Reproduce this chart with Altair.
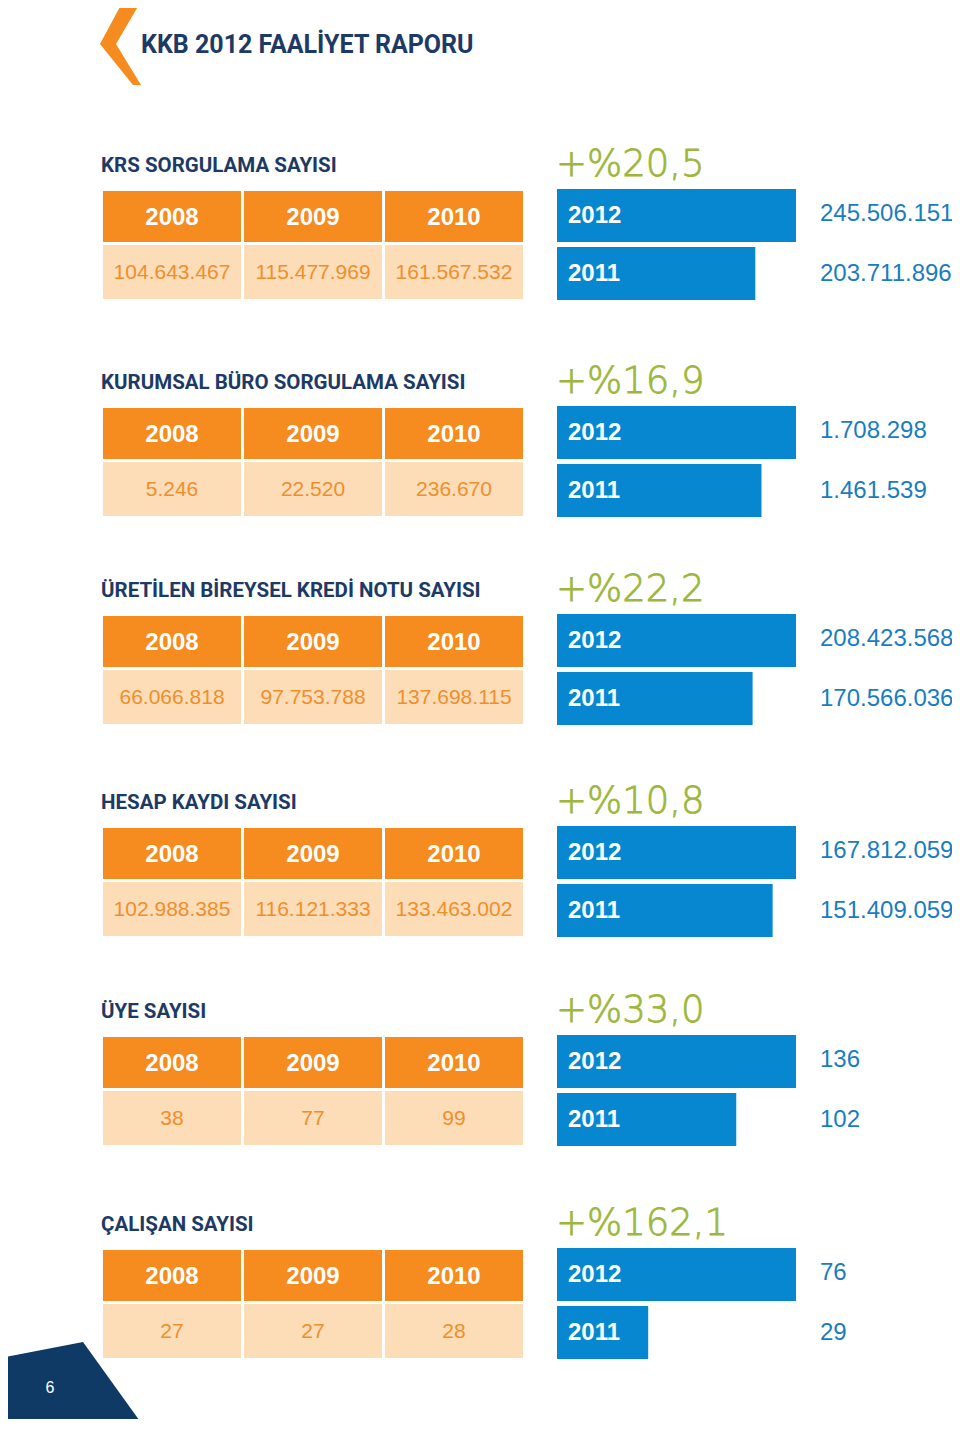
import altair as alt
import pandas as pd

# ---------------- data ----------------
titles = [
    "KRS SORGULAMA SAYISI",
    "KURUMSAL BÜRO SORGULAMA SAYISI",
    "ÜRETİLEN BİREYSEL KREDİ NOTU SAYISI",
    "HESAP KAYDI SAYISI",
    "ÜYE SAYISI",
    "ÇALIŞAN SAYISI",
]
hist_years = ["2008", "2009", "2010"]
v2008 = [104643467, 5246, 66066818, 102988385, 38, 27]
v2009 = [115477969, 22520, 97753788, 116121333, 77, 27]
v2010 = [161567532, 236670, 137698115, 133463002, 99, 28]
bar_years = ["2012", "2011"]
v2012 = [245506151, 1708298, 208423568, 167812059, 136, 76]
v2011 = [203711896, 1461539, 170566036, 151409059, 102, 29]
growth = ["+%20,5", "+%16,9", "+%22,2", "+%10,8", "+%33,0", "+%162,1"]
report_title = "KKB 2012 FAALİYET RAPORU"
page_no = "6"

# ---------------- layout (page pixel units) ----------------
W, H = 944, 1411
section_centers = [217, 434, 642, 854, 1063, 1276]
col_left = [103, 244, 385]
cell_w = 138

ORANGE = "#F68B1F"
PEACH = "#FDDCB8"
ORANGE_TXT = "#EF8F2C"
NAVY = "#1D3A66"
NAVY_DARK = "#0F3A66"
BLUE = "#0787D0"
BLUE_TXT = "#1A7DBF"
GREEN = "#9DB73C"
NARROW = "Roboto, sans-serif"
SANS = "Liberation Sans, Arial, sans-serif"


def fmt(v):
    return f"{v:,}".replace(",", ".")


xs = alt.Scale(domain=[8, 8 + W], range=[0, W], nice=False, zero=False)
ys = alt.Scale(domain=[8, 8 + H], range=[0, H], nice=False, zero=False)


def X(f="x"):
    return alt.X(f"{f}:Q", scale=xs, axis=None)


def Y(f="y"):
    return alt.Y(f"{f}:Q", scale=ys, axis=None)


cells, head_txt, val_txt, title_txt, growth_txt = [], [], [], [], []
bars, bar_txt, right_txt = [], [], []
hist = [v2008, v2009, v2010]
for i, hc in enumerate(section_centers):
    title_txt.append(dict(x=101, y=hc - 51, text=titles[i]))
    growth_txt.append(dict(x=556, y=hc - 41, text=growth[i]))
    for j, xl in enumerate(col_left):
        cells.append(dict(kind="head", x=xl, x2=xl + cell_w, y=hc - 26, y2=hc + 25))
        cells.append(dict(kind="val", x=xl, x2=xl + cell_w, y=hc + 28, y2=hc + 82))
        head_txt.append(dict(x=xl + cell_w / 2, y=hc + 1, text=hist_years[j]))
        val_txt.append(dict(x=xl + cell_w / 2, y=hc + 56, text=fmt(hist[j][i])))
    for k, (yr, val) in enumerate(zip(bar_years, [v2012[i], v2011[i]])):
        top = hc - 28 + k * 58
        bars.append(dict(sec=i, year=yr, value=val, y=top, y2=top + 53))
        bar_txt.append(dict(x=568, y=top + 27, text=yr))
        right_txt.append(dict(x=820, y=hc - 3 + k * 60, text=fmt(val)))

cell_layer = alt.Chart(pd.DataFrame(cells)).mark_rect().encode(
    x=X("x"), x2="x2", y=Y("y"), y2="y2",
    color=alt.Color("kind:N", scale=alt.Scale(domain=["head", "val"], range=[ORANGE, PEACH]), legend=None),
)

bar_layer = alt.Chart(pd.DataFrame(bars)).transform_joinaggregate(
    vmax="max(value)", groupby=["sec"]
).transform_calculate(ratio="datum.value / datum.vmax").mark_rect(color=BLUE).encode(
    x=alt.X("ratio:Q", scale=alt.Scale(domain=[0, 1], range=[549, 788], nice=False, zero=False), axis=None),
    x2=alt.datum(0),
    y=Y("y"), y2="y2",
)


def text_layer(rows, **kw):
    return alt.Chart(pd.DataFrame(rows)).mark_text(**kw).encode(x=X("x"), y=Y("y"), text="text:N")


layers = [
    cell_layer,
    text_layer(title_txt, font=NARROW, fontWeight="bold", fontSize=20.5, color=NAVY, align="left", baseline="middle"),
    text_layer(head_txt, font=SANS, fontWeight="bold", fontSize=24, color="white", align="center", baseline="middle"),
    text_layer(val_txt, font=SANS, fontSize=21, color=ORANGE_TXT, align="center", baseline="middle"),
    text_layer(growth_txt, font="DejaVu Sans", fontWeight=200, fontSize=37, color=GREEN,
               stroke=GREEN, strokeWidth=0.8, align="left", baseline="alphabetic"),
    text_layer(bar_txt, font=SANS, fontWeight="bold", fontSize=24, color="white", align="left", baseline="middle"),
    text_layer(right_txt, font=SANS, fontSize=24, color=BLUE_TXT, align="left", baseline="middle"),
    text_layer([dict(x=141, y=45, text=report_title)], font=NARROW, fontWeight="bold", fontSize=25, color=NAVY, align="left", baseline="middle"),
    text_layer([dict(x=50, y=1388, text=page_no)], font=SANS, fontSize=16, color="white", align="center", baseline="middle"),
]

# chevron and corner shape
chev = pd.DataFrame(dict(y=[3, 44, 85], xo=[122, 100, 133], xi=[140, 116, 141]))
chev_layer = alt.Chart(chev).mark_area(color=ORANGE, orient="horizontal").encode(
    y=Y("y"), x=X("xo"), x2="xi"
)
corner = pd.DataFrame(dict(x=[0, 83, 147], y=[1358, 1342, 1431], y2=[1431, 1431, 1431]))
corner_layer = alt.Chart(corner).mark_area(color=NAVY_DARK).encode(x=X("x"), y=Y("y"), y2="y2")

chart = alt.layer(chev_layer, corner_layer, layers[0], bar_layer, *layers[1:]).resolve_scale(
    x="independent"
).properties(
    width=W, height=H, padding=0, autosize=alt.AutoSizeParams(type="none")
).configure_view(stroke=None)

chart.save("out.html", embed_options={"renderer": "svg", "actions": False})
